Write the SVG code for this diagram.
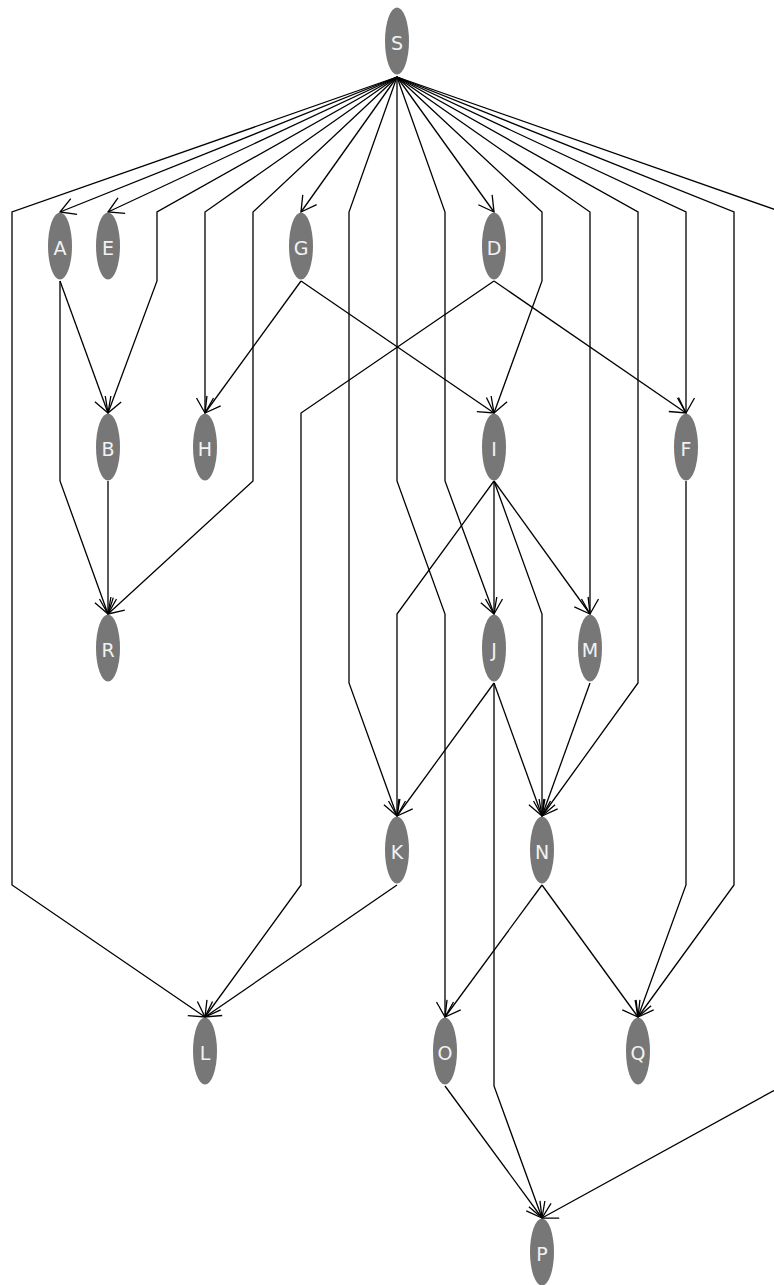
<svg xmlns="http://www.w3.org/2000/svg" width="774" height="1285" viewBox="0 0 774 1285">
<style>
.n ellipse{fill:#777;stroke:none}
.n text{fill:#f2f2f2;font-family:"DejaVu Sans",Verdana,sans-serif;font-size:19px;text-anchor:middle}
.e path{fill:none;stroke:#000;stroke-width:1.3;marker-end:url(#arr)}
</style>
<defs>
<marker id="arr" markerUnits="userSpaceOnUse" viewBox="-17 -11 19 22" markerWidth="19" markerHeight="22" refX="0" refY="0" orient="auto" overflow="visible">
<path d="M-15,-8.5 L0,0 L-15,8.5" fill="none" stroke="#000" stroke-width="1.3"/>
</marker>
</defs>
<rect width="774" height="1285" fill="#fff"/>
<g id="edges" class="e">
<path d="M397,77 L12,212 L12,885 L205,1017"/>
<path d="M397,77 L60,212"/>
<path d="M397,77 L108,212"/>
<path d="M397,77 L157,212 L157,281 L108,413"/>
<path d="M397,77 L205,212 L205,413"/>
<path d="M397,77 L253,212 L253,481 L108,614"/>
<path d="M397,77 L301,212"/>
<path d="M397,77 L349,212 L349,683 L397,816"/>
<path d="M397,77 L397,481 L445,614 L445,1017"/>
<path d="M397,77 L445,212 L445,481 L494,614"/>
<path d="M397,77 L494,212"/>
<path d="M397,77 L542,212 L542,281 L494,413"/>
<path d="M397,77 L590,212 L590,614"/>
<path d="M397,77 L638,212 L638,683 L542,816"/>
<path d="M397,77 L686,212 L686,413"/>
<path d="M397,77 L734,212 L734,885 L638,1017"/>
<path d="M397,77 L782,212 L782,1086 L542,1218"/>
<path d="M60,281 L108,413"/>
<path d="M60,281 L60,481 L108,614"/>
<path d="M108,481 L108,614"/>
<path d="M301,281 L205,413"/>
<path d="M301,281 L494,413"/>
<path d="M494,281 L686,413"/>
<path d="M494,281 L301,413 L301,885 L205,1017"/>
<path d="M494,481 L397,614 L397,816"/>
<path d="M494,481 L494,614"/>
<path d="M494,481 L542,614 L542,816"/>
<path d="M494,481 L590,614"/>
<path d="M494,683 L397,816"/>
<path d="M494,683 L542,816"/>
<path d="M494,683 L494,1086 L542,1218"/>
<path d="M590,683 L542,816"/>
<path d="M397,885 L205,1017"/>
<path d="M542,885 L445,1017"/>
<path d="M542,885 L638,1017"/>
<path d="M445,1086 L542,1218"/>
<path d="M686,481 L686,885 L638,1017"/>
</g>
<g id="S" class="n"><ellipse cx="397" cy="41" rx="12" ry="33.5"/><text x="397" y="50">S</text></g>
<g id="A" class="n"><ellipse cx="60" cy="246" rx="12" ry="33.5"/><text x="60" y="255">A</text></g>
<g id="E" class="n"><ellipse cx="108" cy="246" rx="12" ry="33.5"/><text x="108" y="255">E</text></g>
<g id="G" class="n"><ellipse cx="301" cy="246" rx="12" ry="33.5"/><text x="301" y="255">G</text></g>
<g id="D" class="n"><ellipse cx="494" cy="246" rx="12" ry="33.5"/><text x="494" y="255">D</text></g>
<g id="B" class="n"><ellipse cx="108" cy="447" rx="12" ry="33.5"/><text x="108" y="456">B</text></g>
<g id="H" class="n"><ellipse cx="205" cy="447" rx="12" ry="33.5"/><text x="205" y="456">H</text></g>
<g id="I" class="n"><ellipse cx="494" cy="447" rx="12" ry="33.5"/><text x="494" y="456">I</text></g>
<g id="F" class="n"><ellipse cx="686" cy="447" rx="12" ry="33.5"/><text x="686" y="456">F</text></g>
<g id="R" class="n"><ellipse cx="108" cy="648" rx="12" ry="33.5"/><text x="108" y="657">R</text></g>
<g id="J" class="n"><ellipse cx="494" cy="648" rx="12" ry="33.5"/><text x="494" y="657">J</text></g>
<g id="M" class="n"><ellipse cx="590" cy="648" rx="12" ry="33.5"/><text x="590" y="657">M</text></g>
<g id="K" class="n"><ellipse cx="397" cy="850" rx="12" ry="33.5"/><text x="397" y="859">K</text></g>
<g id="N" class="n"><ellipse cx="542" cy="850" rx="12" ry="33.5"/><text x="542" y="859">N</text></g>
<g id="L" class="n"><ellipse cx="205" cy="1051" rx="12" ry="33.5"/><text x="205" y="1060">L</text></g>
<g id="O" class="n"><ellipse cx="445" cy="1051" rx="12" ry="33.5"/><text x="445" y="1060">O</text></g>
<g id="Q" class="n"><ellipse cx="638" cy="1051" rx="12" ry="33.5"/><text x="638" y="1060">Q</text></g>
<g id="P" class="n"><ellipse cx="542" cy="1252" rx="12" ry="33.5"/><text x="542" y="1261">P</text></g>
</svg>
